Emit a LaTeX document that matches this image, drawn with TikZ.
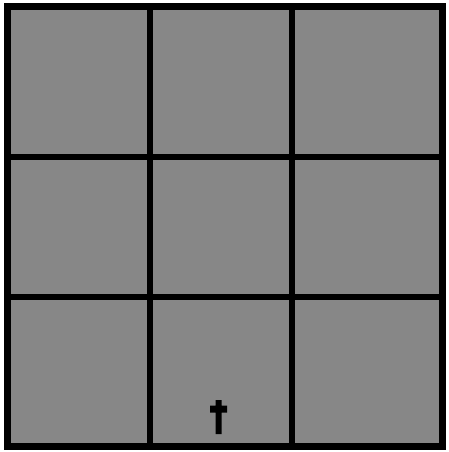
\documentclass[tikz,border=0pt]{standalone}
\begin{document}
\begin{tikzpicture}[x=1pt,y=-1pt,
  gridline/.style={line width=6pt,draw=black},
  cellfill/.style={fill=black!47}]
\useasboundingbox (0,0) rectangle (448,452);
\fill[white] (0,0) rectangle (448,452);
\fill[cellfill] (7,7) rectangle (442,446);
\draw[gridline] (150,7) -- (150,446);
\draw[gridline] (292,7) -- (292,446);
\draw[gridline] (7,157) -- (442,157);
\draw[gridline] (7,297) -- (442,297);
\draw[line width=7pt] (7,7) rectangle (442,446);
% upward arrow marker
\fill[black] (215.5,400) -- (221.5,400) -- (221.5,405.5) -- (227,405.5) -- (227,412.5) -- (221.5,412.5) -- (221.5,434) -- (215.5,434) -- (215.5,412.5) -- (210,412.5) -- (210,405.5) -- (215.5,405.5) -- cycle;
\end{tikzpicture}
\end{document}
